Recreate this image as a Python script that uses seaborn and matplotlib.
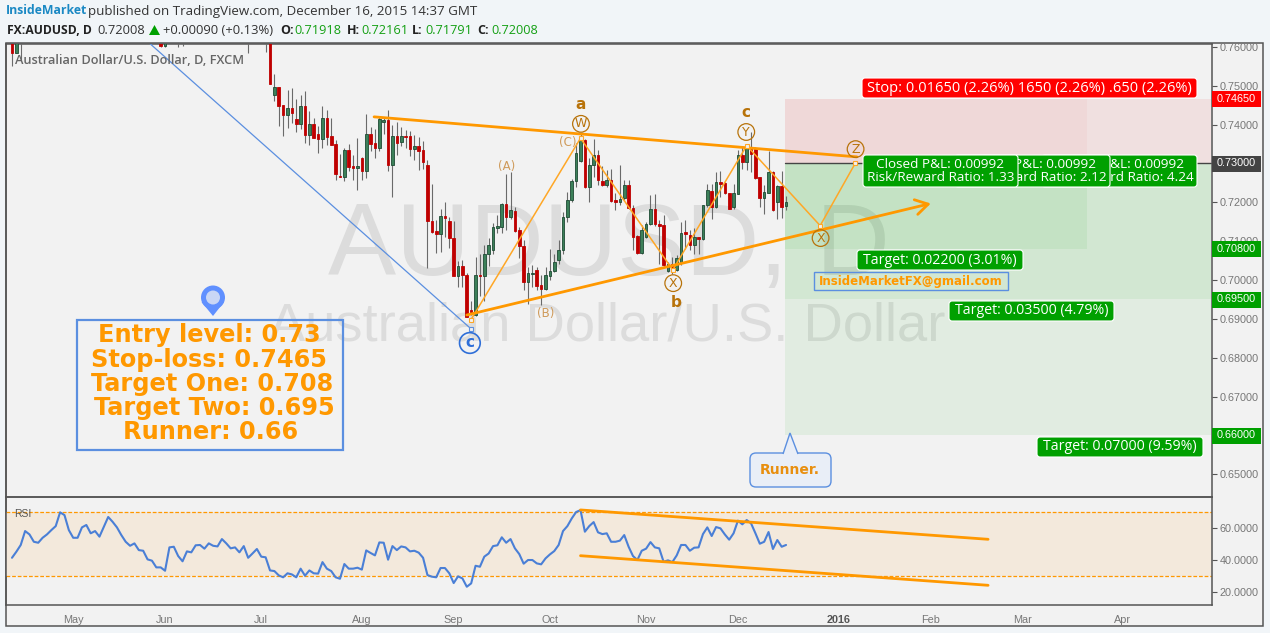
import numpy as np
import pandas as pd
import matplotlib
matplotlib.use("Agg")
import matplotlib.pyplot as plt
import seaborn as sns
from matplotlib.patches import Rectangle, FancyBboxPatch, Polygon, Circle

# daily bars, bar number 1 is the first one that reaches into the pane
opens = [.7680, .7477, .7496, .7450, .7426, .7442, .7414, .7402, .7448, .7374,
         .7401, .7376, .7364, .7416, .7370, .7349, .7268, .7266, .7334, .7293,
         .7289, .7314, .7281, .7375, .7353, .7341, .7407, .7412, .7297, .7372,
         .7354, .7371, .7370, .7338, .7344, .7334, .7295, .7153, .7126, .7119,
         .7164, .7151, .7109, .7011, .7035, .7014, .6924, .6909, .7014, .7010,
         .7067, .7078, .7134, .7137, .7195, .7162, .7177, .7128, .7087, .6995,
         .7016, .7027, .6986, .6977, .7011, .7023, .7052, .7077, .7161, .7205,
         .7256, .7306, .7360, .7240, .7295, .7321, .7254, .7244, .7257, .7206,
         .7201, .7211, .7244, .7185, .7113, .7070, .7111, .7143, .7182, .7145,
         .7141, .7023, .7042, .7025, .7047, .7123, .7115, .7090, .7110, .7106,
         .7192, .7229, .7188, .7252, .7249, .7223, .7188, .7222, .7321, .7304,
         .7336, .7336, .7264, .7212, .7224, .7278, .7201, .7242, .71918]
highs = [.7690, .7530, .7498, .7450, .7489, .7493, .7465, .7476, .7487, .7435,
         .7416, .7396, .7448, .7438, .7416, .7360, .7324, .7341, .7350, .7322,
         .7365, .7317, .7427, .7393, .7390, .7420, .7419, .7438, .7399, .7407,
         .7395, .7386, .7384, .7373, .7369, .7358, .7308, .7246, .7154, .7182,
         .7202, .7163, .7151, .7048, .7051, .7017, .6947, .7059, .7068, .7089,
         .7107, .7148, .7167, .7197, .7273, .7279, .7188, .7137, .7104, .7034,
         .7038, .7034, .7012, .7034, .7081, .7068, .7102, .7175, .7227, .7261,
         .7352, .7377, .7364, .7313, .7362, .7334, .7293, .7283, .7287, .7223,
         .7296, .7257, .7257, .7193, .7115, .7141, .7150, .7218, .7221, .7154,
         .7167, .7047, .7059, .7064, .7150, .7154, .7128, .7133, .7111, .7193,
         .7248, .7248, .7279, .7280, .7253, .7225, .7248, .7334, .7343, .7347,
         .7382, .7343, .7265, .7244, .7333, .7280, .7244, .7280, .72161]
lows = [.7505, .7462, .7397, .7371, .7392, .7403, .7382, .7388, .7353, .7347,
        .7365, .7328, .7341, .7347, .7347, .7257, .7264, .7255, .7280, .7257,
        .7232, .7257, .7263, .7333, .7314, .7333, .7377, .7281, .7214, .7322,
        .7345, .7341, .7320, .7309, .7283, .7285, .7031, .7122, .7070, .7073,
        .7111, .7083, .7011, .6982, .6982, .6905, .6911, .6907, .6960, .6945,
        .7035, .7068, .7121, .7121, .7128, .7158, .7124, .7057, .6974, .6939,
        .6982, .6974, .6935, .6974, .7000, .7021, .7042, .7068, .7150, .7201,
        .7240, .7304, .7238, .7200, .7266, .7244, .7242, .7240, .7201, .7180,
        .7193, .7206, .7182, .7078, .7068, .7068, .7109, .7141, .7139, .7042,
        .7034, .7021, .7015, .7023, .7038, .7081, .7077, .7068, .7068, .7102,
        .7188, .7158, .7186, .7214, .7221, .7182, .7184, .7221, .7287, .7283,
        .7279, .7261, .7187, .7169, .7223, .7178, .7158, .7160, .71791]
closes = [.7505, .7496, .7449, .7425, .7442, .7431, .7402, .7447, .7373, .7401,
          .7366, .7364, .7416, .7369, .7348, .7274, .7266, .7334, .7292, .7289,
          .7293, .7281, .7375, .7351, .7341, .7415, .7412, .7297, .7372, .7353,
          .7370, .7369, .7338, .7344, .7333, .7304, .7152, .7124, .7119, .7164,
          .7160, .7109, .7011, .7035, .7013, .6906, .6919, .7014, .7010, .7068,
          .7089, .7136, .7139, .7195, .7162, .7180, .7127, .7087, .6994, .7017,
          .7017, .6984, .6977, .7012, .7024, .7046, .7077, .7162, .7206, .7256,
          .7326, .7363, .7240, .7295, .7321, .7258, .7244, .7257, .7204, .7201,
          .7208, .7244, .7185, .7111, .7070, .7128, .7143, .7182, .7145, .7139,
          .7038, .7042, .7034, .7056, .7122, .7119, .7090, .7110, .7106, .7192,
          .7231, .7188, .7252, .7248, .7223, .7183, .7223, .7321, .7304, .7339,
          .7325, .7263, .7212, .7226, .7278, .7180, .7242, .7187, .72008]

# bars further left that only poke down through the top of the pane
stub_bars = [-58, -57, -56, -24, -23, -20, -19, -4, 0]
stub_opens = [.7650, .7585, .7630, .7640, .7603, .7630, .7630, .7640, .7670]
stub_highs = [.7680, .7650, .7670, .7660, .7650, .7650, .7650, .7660, .7680]
stub_lows = [.7552, .7585, .7566, .7600, .7600, .7600, .7603, .7585, .7588]
stub_closes = [.7585, .7640, .7650, .7603, .7630, .7640, .7640, .7650, .7650]

rsi = [41.2, 45.0, 49.2, 57.9, 55.8, 51.2, 50.6, 53.7, 55.8, 58.5, 61.0, 69.6,
       67.9, 58.5, 53.7, 53.7, 60.2, 61.7, 56.5, 57.9, 54.4, 60.6, 66.7, 63.7,
       60.2, 55.4, 51.2, 48.7, 50.2, 46.0, 45.6, 40.2, 39.4, 35.2, 35.2, 33.1,
       47.7, 48.1, 42.3, 39.0, 45.2, 44.6, 49.0, 49.2, 46.9, 50.2, 48.7, 48.3,
       52.9, 50.2, 47.1, 47.7, 44.6, 48.5, 41.2, 43.9, 46.7, 41.9, 41.5, 33.3,
       32.9, 30.2, 29.0, 31.5, 30.8, 29.0, 34.4, 30.0, 33.3, 31.5, 31.3, 38.5,
       34.4, 32.9, 29.0, 28.1, 37.3, 34.4, 34.4, 35.0, 33.8, 45.8, 44.2, 42.7,
       50.8, 50.6, 40.0, 48.5, 46.0, 48.3, 47.7, 45.2, 45.6, 44.4, 41.2, 30.4,
       29.4, 29.0, 34.8, 34.8, 31.5, 25.4, 29.6, 28.3, 23.1, 25.2, 36.2, 35.6,
       41.9, 43.9, 48.5, 49.0, 54.0, 50.6, 52.9, 47.1, 43.5, 37.5, 39.8, 39.8,
       37.7, 37.1, 40.8, 43.3, 45.4, 49.2, 57.9, 61.0, 65.8, 69.8, 71.0, 57.5,
       61.0, 63.5, 57.1, 56.0, 56.5, 51.2, 51.2, 51.9, 55.4, 48.1, 42.3, 39.8,
       45.6, 46.9, 51.0, 47.7, 47.1, 38.7, 39.6, 38.5, 42.7, 49.2, 49.2, 45.6,
       47.5, 47.7, 56.0, 60.2, 54.8, 60.4, 59.6, 55.8, 52.5, 56.5, 64.4, 62.1,
       64.8, 62.7, 56.5, 50.0, 51.2, 57.3, 46.7, 52.3, 48.1, 49.2]

# time axis, positions counted in bars
month_bars = [-44, -23, -1, 22, 43, 65, 87, 108, 131, 152, 173, 196]
month_labels = ["May", "Jun", "Jul", "Aug", "Sep", "Oct", "Nov", "Dec", "2016", "Feb", "Mar", "Apr"]

price_ticks = [.65, .66, .67, .68, .69, .70, .71, .72, .73, .74, .75, .76]
rsi_ticks = [20, 40, 60]

# drawn tools
blue_bars, blue_prices = [-26.4, 46.9], [.7608, .6875]
upper_bars, upper_prices = [24.8, 135.2], [.7420, .7317]
lower_bars, lower_prices = [46.0, 152.1], [.6910, .7197]
wave_bars = [46.9, 72.0, 93.1, 110.0, 126.8, 134.8]
wave_prices = [.6897, .7365, .7026, .7346, .7140, .7300]

ring_bars = [72.1, 93.2, 109.9, 126.9, 134.9]
ring_prices = [.7402, .6992, .7381, .7108, .7337]
ring_labels = ["W", "X", "Y", "X", "Z"]
letter_bars = [72.1, 93.8, 109.9]
letter_prices = [.7453, .6943, .7430]
letter_labels = ["a", "b", "c"]
minor_bars = [55.0, 64.1, 69.1]
minor_prices = [.7293, .6915, .7353]
minor_labels = ["(A)", "(B)", "(C)"]

entry, stop, target1, target2, runner = .73, .7465, .708, .695, .66
tool_start, tool_mid, tool_end = 118.8, 187.8, 216.2

rsi_upper_bars, rsi_upper = [72, 165.2], [71.1, 52.75]
rsi_lower_bars, rsi_lower = [72, 165.2], [42.5, 24.0]

W, H = 1270, 633
ORANGE = "#ff9800"
GREY = "#555555"
BLUE = "#5b8fe0"
WAVE = "#b8730a"
GREEN = "#00a000"
TICK = "#777777"

sns.set_theme(style="white")
plt.rcParams["font.family"] = ["Open Sans", "DejaVu Sans"]

fig = plt.figure(figsize=(W / 100, H / 100), dpi=100, facecolor="#f1f5f8")
fig.add_artist(Rectangle((6 / W, 1 - 626 / H), 1257 / W, 582.7 / H, transform=fig.transFigure,
                         fc="#f2f2f2", ec=GREY, lw=1.1, zorder=-1))


def pane(left, top, right, bottom):
    return fig.add_axes([left / W, 1 - bottom / H, (right - left) / W, (bottom - top) / H],
                        facecolor="none")


ax = pane(6, 43.5, 1212, 497.3)
ax2 = pane(6, 497.3, 1212, 605.3)
for a in (ax, ax2):
    a.set_xlim(-59.37, 216.4)
    for s in a.spines.values():
        s.set_color(GREY)
        s.set_linewidth(1.1)
ax.set_ylim(.64408, .76088)
ax2.set_ylim(11.5, 79)

# watermark sits under everything
ax.text(78.6, .7080, "AUDUSD, D", fontsize=73.5, color="#dcdcdc", family="Liberation Sans",
        ha="center", va="center", zorder=0)
ax.text(78, .6881, "Australian Dollar/U.S. Dollar", fontsize=39.2, color="#dcdcdc",
        family="Liberation Sans", ha="center", va="center", zorder=0)

# position tool, three stacked long positions
for end, low in [(tool_mid, target1), (tool_end, target2), (tool_end, runner)]:
    ax.fill_between([tool_start, end], low, entry, color="#00a600", alpha=.066, lw=0, zorder=1)
    ax.fill_between([tool_start, end], entry, stop, color="#e00000", alpha=.036, lw=0, zorder=1)
ax.plot([tool_start, tool_end], [entry, entry], color="#444444", lw=1, zorder=2)

# candles
bars = pd.DataFrame({
    "bar": stub_bars + list(range(1, len(opens) + 1)),
    "open": stub_opens + opens,
    "high": stub_highs + highs,
    "low": stub_lows + lows,
    "close": stub_closes + closes,
})
bars["up"] = bars["close"] >= bars["open"]
ax.vlines(bars["bar"], bars["low"], bars["high"], color="#6a6a6a", lw=.8, zorder=3)
for up, part in bars.groupby("up"):
    ax.bar(part["bar"], (part["close"] - part["open"]).abs(), bottom=part[["open", "close"]].min(axis=1),
           width=.6, color="#3c8059" if up else "#bf0000",
           edgecolor="#1e4a34" if up else "#bf0000", lw=.6, zorder=4)

# wave count and trend lines
sns.lineplot(x=blue_bars, y=blue_prices, ax=ax, color=BLUE, lw=.9, zorder=5)
ax.plot(blue_bars[1], blue_prices[1], "s", ms=3, mfc="#f2f2f2", mec=BLUE, mew=.8, zorder=6)
sns.lineplot(x=wave_bars, y=wave_prices, ax=ax, color="#ffa726", lw=1.1, sort=False, zorder=5)
ax.plot(wave_bars, wave_prices, "s", ms=2.6, mfc="#f2f2f2", mec="#ffa726", mew=.8, ls="none", zorder=6)
sns.lineplot(x=upper_bars, y=upper_prices, ax=ax, color=ORANGE, lw=2, zorder=5)
ax.annotate("", xy=(lower_bars[1], lower_prices[1]), xytext=(lower_bars[0], lower_prices[0]),
            arrowprops=dict(arrowstyle="->,head_length=.75,head_width=.45", color=ORANGE, lw=2,
                            shrinkA=0, shrinkB=0), zorder=5)

ax.scatter(ring_bars, ring_prices, s=144, facecolor="none", edgecolor=WAVE, lw=.9, zorder=6)
for b, p, s in zip(ring_bars, ring_prices, ring_labels):
    ax.text(b, p, s, color=WAVE, fontsize=9, family="DejaVu Sans", ha="center", va="center", zorder=7)
for b, p, s in zip(letter_bars, letter_prices, letter_labels):
    ax.text(b, p, s, color=WAVE, fontsize=11, fontweight="bold", family="DejaVu Sans",
            ha="center", va="center", zorder=7)
for b, p, s in zip(minor_bars, minor_prices, minor_labels):
    ax.text(b, p, s, color="#cf9a5a", fontsize=8.5, family="DejaVu Sans", ha="center", va="center", zorder=7)
ax.scatter([46.7], [.6838], s=222, facecolor="none", edgecolor="#2f6fd8", lw=1.2, zorder=6)
ax.text(46.7, .6838, "c", color="#2f6fd8", fontsize=11, fontweight="bold", family="DejaVu Sans",
        ha="center", va="center", zorder=7)

# price scale
ax.yaxis.tick_right()
ax.set_yticks(price_ticks)
ax.set_yticklabels([f"{t:.5f}" for t in price_ticks], family="Liberation Sans")
ax.tick_params(axis="y", length=3.5, width=.8, color=GREY, labelcolor=TICK, labelsize=7.8, pad=2)
ax.tick_params(axis="x", bottom=False, labelbottom=False)

# RSI pane
ax2.axhspan(30, 70, color="#f3e9dc", lw=0, zorder=1)
for level in (30, 70):
    ax2.axhline(level, color=ORANGE, lw=.9, ls=(0, (3, 1.5)), zorder=2)
rsi_bars = np.arange(len(opens) - len(rsi) + 1, len(opens) + 1)
sns.lineplot(x=rsi_bars, y=rsi, ax=ax2, color="#4a7fd6", lw=1.5, zorder=3)
sns.lineplot(x=rsi_upper_bars, y=rsi_upper, ax=ax2, color=ORANGE, lw=2, zorder=4)
sns.lineplot(x=rsi_lower_bars, y=rsi_lower, ax=ax2, color=ORANGE, lw=2, zorder=4)
ax2.yaxis.tick_right()
ax2.set_yticks(rsi_ticks)
ax2.set_yticklabels([f"{t:.4f}" for t in rsi_ticks], family="Liberation Sans")
ax2.tick_params(axis="y", length=3.5, width=.8, color=GREY, labelcolor=TICK, labelsize=7.8, pad=2)
ax2.set_xticks(month_bars)
ax2.set_xticklabels(month_labels, family="Liberation Sans")
ax2.tick_params(axis="x", length=3, width=.8, color=GREY, labelcolor=TICK, labelsize=7.8, pad=4)
for lab in ax2.get_xticklabels():
    if lab.get_text() == "2016":
        lab.set_fontweight("bold")
        lab.set_color("#555555")

# overlay in picture pixels for tags, boxes and header text
ov = fig.add_axes([0, 0, 1, 1], facecolor="none")
ov.set_xlim(0, W)
ov.set_ylim(H, 0)
ov.axis("off")

tag_z = [10]


def tag(x0, y0, x1, y1, s, fc, size=10.2):
    # later tags cover earlier ones, text included
    tag_z[0] += 2
    ov.add_patch(FancyBboxPatch((x0 + 2, y0 + 2), x1 - x0 - 4, y1 - y0 - 4,
                                boxstyle="round,pad=2,rounding_size=3", fc=fc, ec="white", lw=.8,
                                zorder=tag_z[0]))
    ov.text((x0 + x1) / 2, (y0 + y1) / 2, s, color="white", fontsize=size, ha="center",
            va="center", linespacing=.95, zorder=tag_z[0] + 1)


tag(862, 78, 1197, 98, "Stop: 0.01650 (2.26%) 1650 (2.26%) .650 (2.26%)", "#ff0000", size=10.5)
for x0, x1, ratio in [(1042, 1197, "4.24"), (955, 1110, "2.12"), (863, 1018, "1.33")]:
    tag(x0, 155, x1, 187, f"Closed P&L: 0.00992\nRisk/Reward Ratio: {ratio}", GREEN, size=9.7)
tag(857, 250, 1023, 270, "Target: 0.02200 (3.01%)", GREEN)
tag(949, 301, 1114, 321, "Target: 0.03500 (4.79%)", GREEN)
tag(1037, 437, 1203, 457, "Target: 0.07000 (9.59%)", GREEN)

ov.add_patch(Rectangle((814, 272), 194, 18, fc="none", ec=BLUE, lw=1))
ov.text(911, 281, "InsideMarketFX@gmail.com", color=ORANGE, fontsize=8.5, fontweight="bold",
        family="DejaVu Sans", ha="center", va="center")

# runner callout
ov.add_patch(FancyBboxPatch((754, 457), 73, 26, boxstyle="round,pad=4,rounding_size=6",
                            fc="#e9eef7", ec=BLUE, lw=1))
ov.add_patch(Polygon([(783, 454), (790, 433), (798, 454)], closed=False, fc="#e9eef7", ec=BLUE, lw=1))
ov.text(790, 470, "Runner.", color="#e88f10", fontsize=10, fontweight="bold", family="DejaVu Sans",
        ha="center", va="center")

# levels box and pin
ov.add_patch(Rectangle((77, 320), 266, 129.5, fc="none", ec=BLUE, lw=1.6))
box_lines = ["Entry level: 0.73", "Stop-loss: 0.7465", "Target One: 0.708", "Target Two: 0.695", "Runner: 0.66"]
for y, s, cx in zip([335, 360, 384, 408, 432], box_lines, [209, 209, 212, 214, 211]):
    ov.text(cx, y, s, color=ORANGE, fontsize=17.3, fontweight="bold", family="DejaVu Sans",
            ha="center", va="center")
ov.add_patch(Polygon([(201.5, 302), (224, 302), (213, 316)], fc="#6090ff", ec="none"))
ov.add_patch(Circle((213, 297.5), 12, fc="#6090ff", ec="none"))
ov.add_patch(Circle((213, 297.5), 7, fc="#c9d6f5", ec="none"))

# price tags on the scale
for y, s, fc in [(99.4, "0.74650", "#ff0000"), (163.5, "0.73000", "#444444"), (249, "0.70800", GREEN),
                 (299.5, "0.69500", GREEN), (435.5, "0.66000", GREEN)]:
    ov.add_patch(Rectangle((1212, y - 8), 49, 16, fc=fc, ec="none"))
    ov.text(1236.5, y, s, color="white", fontsize=7.8, family="Liberation Sans", ha="center", va="center")

ov.text(15, 60, "Australian Dollar/U.S. Dollar, D, FXCM", color="#666666", fontsize=9.2,
        fontweight="semibold", va="center")
ov.text(14, 514, "RSI", color="#555555", fontsize=7.5, family="Liberation Sans", va="center")

# header
ov.text(6, 11, "InsideMarket", color="#1b89c4", fontsize=8.8, fontweight="bold", va="center")
ov.text(88, 11, "published on TradingView.com, December 16, 2015 14:37 GMT", color="#333333",
        fontsize=9.6, va="center")
ov.text(7, 30, "FX:AUDUSD, D", color="#222222", fontsize=8.7, fontweight="bold", va="center")
ov.text(97, 30, "0.72008", color="#333333", fontsize=9.3, va="center")
ov.add_patch(Polygon([(149, 35), (160, 35), (154.5, 25)], fc="#00a000", ec="none"))
ov.text(163, 30, "+0.00090 (+0.13%)", color="#333333", fontsize=9.4, va="center")
for x, s in [(280, "O:"), (347, "H:"), (412, "L:"), (477, "C:")]:
    ov.text(x, 30, s, color="#222222", fontsize=9, fontweight="bold", va="center")
for x, s in [(294, "0.71918"), (361, "0.72161"), (425, "0.71791"), (491, "0.72008")]:
    ov.text(x, 30, s, color="#14a014", fontsize=9.2, va="center")

fig.savefig("out.png", dpi=100, facecolor=fig.get_facecolor())
